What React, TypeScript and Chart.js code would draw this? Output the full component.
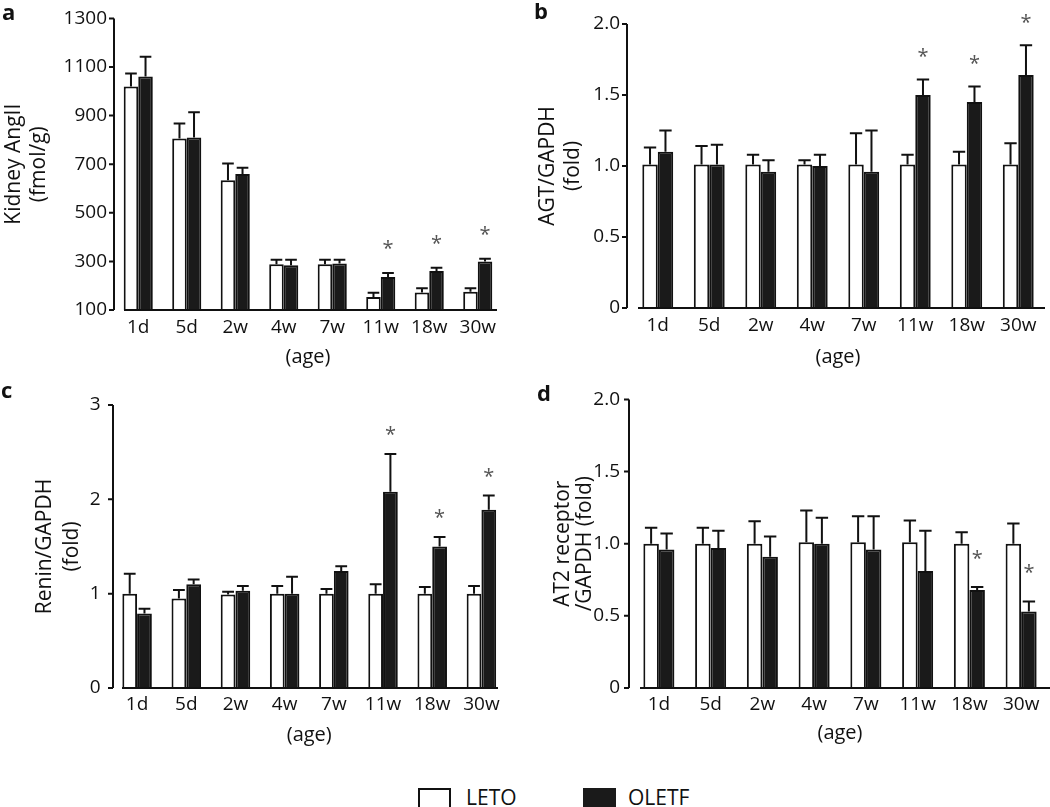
import React, { useEffect, useRef } from 'react';
import { Chart, registerables } from 'chart.js';

Chart.register(...registerables);

// ---------- data ----------
const ages = ['1d', '5d', '2w', '4w', '7w', '11w', '18w', '30w'];

// a: Kidney AngII (fmol/g)
const angLeto = [1020, 806, 634, 288, 288, 154, 172, 175];
const angLetoErr = [53, 62, 69, 19, 19, 17, 18, 15];
const angOletf = [1061, 810, 660, 284, 291, 236, 260, 300];
const angOletfErr = [81, 104, 25, 23, 16, 16, 14, 11];
const angSig = [0, 0, 0, 0, 0, 1, 1, 1];

// b: AGT/GAPDH (fold)
const agtLeto = [1.01, 1.01, 1.01, 1.01, 1.01, 1.01, 1.01, 1.01];
const agtLetoErr = [0.12, 0.13, 0.07, 0.03, 0.22, 0.07, 0.09, 0.15];
const agtOletf = [1.1, 1.01, 0.96, 1.0, 0.96, 1.5, 1.45, 1.64];
const agtOletfErr = [0.15, 0.14, 0.08, 0.08, 0.29, 0.11, 0.11, 0.21];
const agtSig = [0, 0, 0, 0, 0, 1, 1, 1];

// c: Renin/GAPDH (fold)
const reninLeto = [1.0, 0.95, 0.99, 1.0, 1.0, 1.0, 1.0, 1.0];
const reninLetoErr = [0.21, 0.09, 0.03, 0.08, 0.05, 0.1, 0.07, 0.08];
const reninOletf = [0.79, 1.1, 1.03, 1.0, 1.24, 2.08, 1.5, 1.89];
const reninOletfErr = [0.05, 0.05, 0.05, 0.18, 0.05, 0.4, 0.1, 0.15];
const reninSig = [0, 0, 0, 0, 0, 1, 1, 1];

// d: AT2 receptor/GAPDH (fold)
const at2Leto = [1.0, 1.0, 1.0, 1.01, 1.01, 1.01, 1.0, 1.0];
const at2LetoErr = [0.11, 0.11, 0.155, 0.22, 0.18, 0.15, 0.08, 0.14];
const at2Oletf = [0.96, 0.97, 0.91, 1.0, 0.96, 0.81, 0.68, 0.53];
const at2OletfErr = [0.11, 0.12, 0.14, 0.18, 0.23, 0.28, 0.02, 0.07];
const at2Sig = [0, 0, 0, 0, 0, 0, 1, 1];

const FONT = '"Open Sans", sans-serif';
const TEXT = '#111';

type PanelCfg = {
  letter: string;
  letterPos: { left: number; top: number };
  canvas: { left: number; top: number; w: number; h: number };
  area: { left: number; top: number; right: number; bottom: number };
  axisX: number;
  baseline: { start: number; end: number };
  yMin: number;
  yMax: number;
  yStep: number;
  decimals: number;
  base?: number;
  yTitle: string[];
  yTitleX: number;
  yTitleLH: number;
  tickPadY: number;
  tickPadX: number;
  xTitleY: number;
  starGap: number;
  leto: number[];
  letoErr: number[];
  oletf: number[];
  oletfErr: number[];
  sig: number[];
};

const panels: PanelCfg[] = [
  {
    letter: 'a',
    letterPos: { left: 2, top: 0 },
    canvas: { left: 0, top: 0, w: 520, h: 385 },
    area: { left: 114, top: 17, right: 502, bottom: 310 },
    axisX: 114,
    baseline: { start: 124, end: 497 },
    yMin: 100, yMax: 1300, yStep: 200, decimals: 0, base: 100,
    yTitle: ['Kidney AngII', '(fmol/g)'], yTitleX: 14, yTitleLH: 25,
    tickPadY: 7, tickPadX: 6, xTitleY: 357, starGap: 30,
    leto: angLeto, letoErr: angLetoErr, oletf: angOletf, oletfErr: angOletfErr, sig: angSig,
  },
  {
    letter: 'b',
    letterPos: { left: 534, top: -1 },
    canvas: { left: 520, top: 0, w: 530, h: 385 },
    area: { left: 632, top: 24, right: 1044, bottom: 308 },
    axisX: 627,
    baseline: { start: 638, end: 1045 },
    yMin: 0, yMax: 2, yStep: 0.5, decimals: 1,
    yTitle: ['AGT/GAPDH', '(fold)'], yTitleX: 548, yTitleLH: 25,
    tickPadY: 12, tickPadX: 6, xTitleY: 357, starGap: 28,
    leto: agtLeto, letoErr: agtLetoErr, oletf: agtOletf, oletfErr: agtOletfErr, sig: agtSig,
  },
  {
    letter: 'c',
    letterPos: { left: 1, top: 378 },
    canvas: { left: 0, top: 375, w: 520, h: 400 },
    area: { left: 112.5, top: 405, right: 506, bottom: 688 },
    axisX: 113,
    baseline: { start: 122, end: 498 },
    yMin: 0, yMax: 3, yStep: 1, decimals: 0,
    yTitle: ['Renin/GAPDH', '(fold)'], yTitleX: 45, yTitleLH: 27,
    tickPadY: 12, tickPadX: 5, xTitleY: 735, starGap: 25,
    leto: reninLeto, letoErr: reninLetoErr, oletf: reninOletf, oletfErr: reninOletfErr, sig: reninSig,
  },
  {
    letter: 'd',
    letterPos: { left: 537, top: 381 },
    canvas: { left: 520, top: 375, w: 530, h: 400 },
    area: { left: 633, top: 393, right: 1047, bottom: 688 },
    axisX: 629,
    baseline: { start: 640, end: 1050 },
    yMin: 0, yMax: 2, yStep: 0.5, decimals: 1,
    yTitle: ['AT2 receptor', '/GAPDH (fold)'], yTitleX: 563, yTitleLH: 22,
    tickPadY: 13, tickPadX: 5, xTitleY: 733, starGap: 34,
    leto: at2Leto, letoErr: at2LetoErr, oletf: at2Oletf, oletfErr: at2OletfErr, sig: at2Sig,
  },
];

function Panel({ cfg }: { cfg: PanelCfg }) {
  const ref = useRef<HTMLCanvasElement>(null);

  useEffect(() => {
    if (!ref.current) return;
    const c = cfg.canvas;
    const ar = cfg.area;
    const yWidth = ar.left - c.left;
    const xHeight = c.top + c.h - ar.bottom;
    const padTop = ar.top - c.top;
    const padRight = c.left + c.w - ar.right;
    const xTitleLH = 24;
    const xTitlePadBottom = c.top + c.h - cfg.xTitleY - xTitleLH / 2;
    const yTitlePadTop = cfg.yTitleX - c.left - cfg.yTitleLH / 2;

    const decor = {
      id: 'panelDecor',
      afterDatasetsDraw(chart: any) {
        const { ctx, chartArea, scales } = chart;
        const y = scales.y;
        ctx.save();
        ctx.strokeStyle = '#111';
        ctx.lineWidth = 2;
        const sets: [number[], number[]][] = [
          [cfg.leto, cfg.letoErr],
          [cfg.oletf, cfg.oletfErr],
        ];
        sets.forEach(([vals, errs], di) => {
          const meta = chart.getDatasetMeta(di);
          meta.data.forEach((bar: any, i: number) => {
            const { x, y: top, width } = bar.getProps(['x', 'y', 'width'], true);
            const capY = y.getPixelForValue(vals[i] + errs[i]);
            const cw = width * 0.8;
            ctx.beginPath();
            ctx.moveTo(x, top);
            ctx.lineTo(x, capY);
            ctx.moveTo(x - cw / 2, capY);
            ctx.lineTo(x + cw / 2, capY);
            ctx.stroke();
            if (di === 1 && cfg.sig[i]) {
              ctx.fillStyle = '#555';
              ctx.font = '20px ' + FONT;
              ctx.textAlign = 'center';
              ctx.textBaseline = 'alphabetic';
              ctx.fillText('*', x, capY - cfg.starGap + 12);
            }
          });
        });
        const axX = cfg.axisX - c.left;
        ctx.beginPath();
        ctx.moveTo(axX, chartArea.top);
        ctx.lineTo(axX, chartArea.bottom);
        y.ticks.forEach((t: any) => {
          const py = y.getPixelForValue(t.value);
          ctx.moveTo(axX - 5, py);
          ctx.lineTo(axX, py);
        });
        ctx.moveTo(cfg.baseline.start - c.left, chartArea.bottom);
        ctx.lineTo(cfg.baseline.end - c.left, chartArea.bottom);
        ctx.stroke();
        ctx.restore();
      },
    };

    const baseOpt = cfg.base !== undefined ? { base: cfg.base } : {};

    const chart = new Chart(ref.current, {
      type: 'bar',
      data: {
        labels: ages,
        datasets: [
          {
            label: 'LETO',
            data: cfg.leto,
            backgroundColor: '#ffffff',
            borderColor: '#111111',
            borderWidth: 2,
            ...baseOpt,
          },
          {
            label: 'OLETF',
            data: cfg.oletf,
            backgroundColor: '#1a1a1a',
            borderColor: '#111111',
            borderWidth: 2,
            ...baseOpt,
          },
        ],
      },
      options: {
        responsive: false,
        animation: false,
        layout: { padding: { left: 0, top: padTop, right: padRight, bottom: 0 } },
        plugins: { legend: { display: false }, tooltip: { enabled: false } },
        datasets: { bar: { categoryPercentage: 0.6, barPercentage: 1 } },
        scales: {
          x: {
            grid: { display: false, drawTicks: false },
            border: { display: false },
            ticks: {
              font: { family: FONT, size: 19 },
              color: TEXT,
              padding: cfg.tickPadX,
              maxRotation: 0,
              autoSkip: false,
            },
            title: {
              display: true,
              text: '(age)',
              font: { family: FONT, size: 20, lineHeight: xTitleLH / 20 },
              color: TEXT,
              padding: { top: 0, bottom: xTitlePadBottom },
            },
            afterFit: (s: any) => {
              s.height = xHeight;
            },
          },
          y: {
            min: cfg.yMin,
            max: cfg.yMax,
            grid: { display: false, drawTicks: false },
            border: { display: false },
            ticks: {
              stepSize: cfg.yStep,
              font: { family: FONT, size: 19 },
              color: TEXT,
              padding: cfg.tickPadY,
              callback: (v: any) => (Number(v) === 0 ? '0' : Number(v).toFixed(cfg.decimals)),
            },
            title: {
              display: true,
              text: cfg.yTitle,
              font: { family: FONT, size: 21, lineHeight: cfg.yTitleLH / 21 },
              color: TEXT,
              padding: { top: yTitlePadTop, bottom: 0 },
            },
            afterFit: (s: any) => {
              s.width = yWidth;
            },
          },
        },
      } as any,
      plugins: [decor],
    });
    return () => chart.destroy();
  }, [cfg]);

  const c = cfg.canvas;
  return (
    <>
      <canvas
        ref={ref}
        width={c.w}
        height={c.h}
        style={{ position: 'absolute', left: c.left, top: c.top, width: c.w, height: c.h }}
      />
      <div
        style={{
          position: 'absolute',
          left: cfg.letterPos.left,
          top: cfg.letterPos.top,
          fontFamily: FONT,
          fontWeight: 700,
          fontSize: 22,
          lineHeight: '22px',
          color: '#111',
        }}
      >
        {cfg.letter}
      </div>
    </>
  );
}

export default function App() {
  return (
    <div
      style={{
        position: 'absolute',
        left: 0,
        top: 0,
        width: 1050,
        height: 807,
        overflow: 'hidden',
        background: '#fff',
      }}
    >
      {panels.map((p) => (
        <Panel key={p.letter} cfg={p} />
      ))}
      <div
        style={{
          position: 'absolute',
          left: 418,
          top: 788,
          width: 29,
          height: 22,
          border: '2px solid #111',
          background: '#fff',
        }}
      />
      <div
        style={{
          position: 'absolute',
          left: 466,
          top: 787,
          fontFamily: FONT,
          fontSize: 21,
          lineHeight: '21px',
          color: TEXT,
        }}
      >
        LETO
      </div>
      <div
        style={{
          position: 'absolute',
          left: 583,
          top: 788,
          width: 33,
          height: 26,
          background: '#1a1a1a',
        }}
      />
      <div
        style={{
          position: 'absolute',
          left: 628,
          top: 787,
          fontFamily: FONT,
          fontSize: 21,
          lineHeight: '21px',
          color: TEXT,
        }}
      >
        OLETF
      </div>
    </div>
  );
}
